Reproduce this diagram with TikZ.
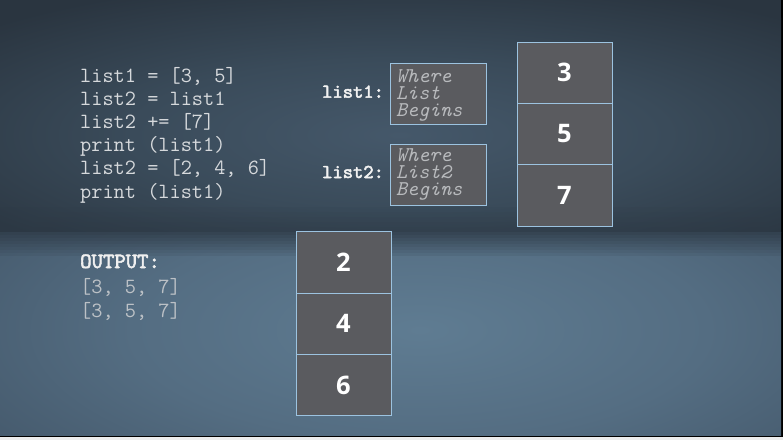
\documentclass[tikz,border=0pt]{standalone}
\usepackage{fontspec}
\newfontfamily\digitfont{Open Sans}
\newfontfamily\ttbold{lmmono10-regular.otf}[FakeBold=2.5]
\definecolor{topin}{HTML}{45586A}
\definecolor{topmid}{HTML}{3A4B5A}
\definecolor{topout}{HTML}{2A3540}
\definecolor{botin}{HTML}{5F7C92}
\definecolor{botmid}{HTML}{546D82}
\definecolor{botout}{HTML}{405365}
\definecolor{horizon}{HTML}{2C3844}
\definecolor{cellfill}{HTML}{5A5B5F}
\definecolor{cellline}{HTML}{9CC3E0}
\definecolor{codecol}{HTML}{D6D9DC}
\definecolor{outcol}{HTML}{BCC1C6}
\definecolor{ptrcol}{HTML}{B8BABD}
\pgfdeclareradialshading{topsh}{\pgfpoint{0bp}{0bp}}{color(0bp)=(topin); color(12bp)=(topmid); color(25bp)=(topout); color(50bp)=(topout)}
\pgfdeclareradialshading{botsh}{\pgfpoint{0bp}{0bp}}{color(0bp)=(botin); color(12bp)=(botmid); color(25bp)=(botout); color(50bp)=(botout)}
\tikzset{
  cell/.style={draw=cellline, fill=cellfill, line width=0.9pt, minimum width=95pt, minimum height=61.3pt, inner sep=0pt, font=\digitfont\bfseries\fontsize{25.5}{25.5}\selectfont, text=white},
  ptrbox/.style={draw=cellline, fill=cellfill, line width=0.9pt, minimum width=96pt, minimum height=61pt, inner sep=0pt},
  code/.style={anchor=base west, inner sep=0pt, font=\ttfamily\fontsize{21.7}{21.7}\selectfont, text=codecol},
  outtxt/.style={code, text=outcol},
  outhead/.style={code, font=\ttbold\fontsize{21.7}{21.7}\selectfont, text=white!94!black},
  lbl/.style={anchor=base west, inner sep=0pt, font=\ttbold\fontsize{19.6}{19.6}\selectfont, text=white!95!black},
  ptrtxt/.style={anchor=base west, inner sep=0pt, font=\ttfamily\itshape\fontsize{21}{21}\selectfont, text=ptrcol}
}
\begin{document}
\begin{tikzpicture}[x=1pt, y=-1pt]
\useasboundingbox (0,0) rectangle (783,440);
% background
\fill[black] (0,0) rectangle (783,437);
\fill[white!93!black] (0,437) rectangle (783,440);
\begin{scope}
  \clip (0,0) rectangle (781,232);
  \fill[topout] (0,0) rectangle (781,232);
  \shade[shading=topsh] (400,135) ellipse [x radius=560, y radius=160];
\end{scope}
\begin{scope}
  \clip (0,232) rectangle (781,435);
  \fill[botout] (0,232) rectangle (781,435);
  \shade[shading=botsh] (420,330) ellipse [x radius=600, y radius=230];
  \foreach \i in {0,...,7} {
    \fill[horizon, opacity={0.75-0.09*\i}] (0,232+3*\i) rectangle (781,235+3*\i);
  }
\end{scope}
\foreach \i in {0,...,5} {
  \fill[horizon, opacity={0.08*\i}] (0,202+5*\i) rectangle (781,207+5*\i);
}
% code
\node[code] (c1) at (80,82) {list1 = [3, 5]};
\node[code] (c2) at (80,105.2) {list2 = list1};
\node[code] (c3) at (80,128.4) {list2 += [7]};
\node[code] (c4) at (80,151.6) {print (list1)};
\node[code] (c5) at (80,174.8) {list2 = [2, 4, 6]};
\node[code] (c6) at (80,198) {print (list1)};
% output
\node[outhead] (oh) at (80,268) {OUTPUT:};
\node[outtxt] (o1) at (80,293) {[3, 5, 7]};
\node[outtxt] (o2) at (80,317) {[3, 5, 7]};
% pointers
\node[lbl] (l1) at (322,97.7) {list1:};
\node[lbl] (l2) at (322,178) {list2:};
\node[ptrbox] (p1) at (438,93.5) {};
\node[ptrbox] (p2) at (438,174.5) {};
\node[ptrtxt] (p1a) at (396,82.7) {Where};
\node[ptrtxt] (p1b) at (396,99.5) {List};
\node[ptrtxt] (p1c) at (396,116.5) {Begins};
\node[ptrtxt] (p2a) at (396,161.7) {Where};
\node[ptrtxt] (p2b) at (396,178.5) {List2};
\node[ptrtxt] (p2c) at (396,195.3) {Begins};
% list cells
\node[cell] (a3) at (564.5,72.6) {3};
\node[cell] (a5) at (564.5,134) {5};
\node[cell] (a7) at (564.5,195.4) {7};
\node[cell] (b2) at (343.5,262.5) {2};
\node[cell] (b4) at (343.5,323.8) {4};
\node[cell] (b6) at (343.5,385.1) {6};
\end{tikzpicture}
\end{document}
